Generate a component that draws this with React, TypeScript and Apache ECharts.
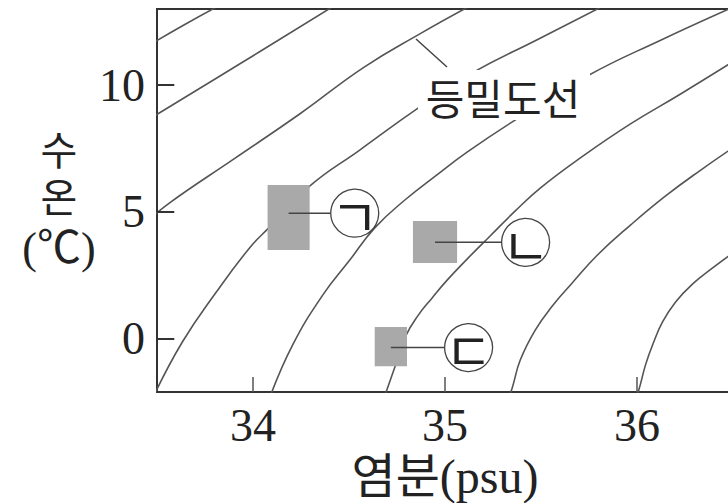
import React, { useEffect, useRef } from "react";
import * as echarts from "echarts";

// Axis ticks
const salinityTicks = [34, 35, 36];
const tempTicks = [0, 5, 10];

// Isopycnal curves: [salinity (psu), temperature (°C)]
const isopycnal1 = [[33.46, 11.58], [33.64, 12.37], [33.83, 13.16]];
const isopycnal2 = [[33.46, 8.66], [33.93, 10.83], [34.43, 13.16]];
const isopycnal3 = [[33.46, 4.69], [33.564, 5.35], [33.903, 7.1], [34.243, 8.86], [34.577, 10.7], [34.869, 12.02], [35.13, 13.12]];
const isopycnal4 = [[33.48, -2.3], [33.632, -0.13], [33.809, 1.84], [33.982, 3.58], [34.086, 4.4], [34.295, 6.02], [34.556, 7.44], [34.869, 9.14], [35.151, 10.52], [35.475, 11.77], [35.835, 13.16]];
const isopycnal5 = [[34.086, -2.34], [34.206, -0.25], [34.363, 1.72], [34.504, 3.1], [34.634, 4.37], [34.791, 5.47], [34.963, 6.49], [35.115, 7.36], [35.365, 8.62], [35.741, 10.36], [36.123, 11.77], [36.514, 13.12]];
const isopycnal6 = [[34.681, -2.34], [34.697, -2.02], [34.739, -1.11], [34.795, 0.1], [34.862, 0.94], [34.932, 1.6], [35.01, 2.3], [35.115, 3.14], [35.235, 4.05], [35.366, 5.04], [35.496, 5.94], [35.705, 7.13], [35.966, 8.47], [36.227, 9.65], [36.514, 10.99]];
const isopycnal7 = [[35.329, -2.34], [35.35, -1.94], [35.392, -0.84], [35.47, 0.34], [35.559, 1.29], [35.658, 2.16], [35.794, 3.3], [35.966, 4.48], [36.149, 5.63], [36.332, 6.65], [36.514, 7.6]];
const isopycnal8 = [[35.997, -2.34], [36.018, -1.79], [36.044, -1.04], [36.081, -0.25], [36.133, 0.66], [36.201, 1.45], [36.29, 2.16], [36.394, 2.79], [36.514, 3.46]];

// Water masses ㄱ, ㄴ, ㄷ
const markLabels = ["ㄱ", "ㄴ", "ㄷ"];
const salRange = [[34.076, 34.295], [34.833, 35.063], [34.634, 34.802]];
const tempRange = [[3.5, 6.06], [2.99, 4.64], [-1.08, 0.46]];
const markTemp = [4.95, 3.8, -0.35];
const circleSal = [34.53, 35.42, 35.123];

const curves = [isopycnal1, isopycnal2, isopycnal3, isopycnal4, isopycnal5, isopycnal6, isopycnal7, isopycnal8];

const SERIF = "'Liberation Serif', 'Noto Sans CJK KR', serif";
const SANS_KR = "'Noto Sans CJK KR', sans-serif";
const X_MIN = 33.5;
const Y_TICK_LEN = 0.09; // inward tick length on the temperature axis, in psu

export default function App() {
  const ref = useRef<HTMLDivElement>(null);
  useEffect(() => {
    if (!ref.current) return;
    const chart = echarts.init(ref.current, undefined, { renderer: "svg" });
    const R = 24;
    const option: any = {
      animation: false,
      backgroundColor: "#fff",
      grid: {
        left: 157,
        top: 9,
        right: -5,
        bottom: 111,
        show: true,
        borderColor: "#333",
        borderWidth: 2,
        backgroundColor: "transparent",
        containLabel: false,
        outerBoundsMode: "none",
      },
      xAxis: {
        type: "value",
        min: X_MIN,
        max: 36.5,
        splitLine: { show: false },
        axisLine: { show: false, onZero: false },
        axisTick: {
          show: true,
          inside: true,
          length: 15,
          customValues: salinityTicks,
          lineStyle: { color: "#555", width: 1.5 },
        },
        axisLabel: {
          customValues: salinityTicks,
          fontSize: 46,
          fontFamily: SERIF,
          color: "#222",
          margin: 10,
        },
        name: "염분(psu)",
        nameLocation: "middle",
        nameGap: 57,
        nameTextStyle: { fontSize: 48, fontFamily: SERIF, color: "#222" },
      },
      yAxis: {
        type: "value",
        min: -2.1,
        max: 13,
        splitLine: { show: false },
        axisLine: { show: false, onZero: false },
        axisTick: { show: false },
        axisLabel: {
          customValues: tempTicks,
          fontSize: 46,
          fontFamily: SERIF,
          color: "#222",
          margin: 12,
        },
      },
      series: [
        ...curves.map((c) => ({
          type: "line",
          data: c,
          showSymbol: false,
          smooth: 0.45,
          silent: true,
          clip: true,
          z: 2,
          lineStyle: { color: "#555", width: 1.6 },
        })),
        {
          // carrier for the inward ticks of the temperature axis
          type: "line",
          data: tempTicks.map((t) => [35.5, t]),
          lineStyle: { opacity: 0 },
          showSymbol: false,
          silent: true,
          z: 20,
          markLine: {
            silent: true,
            symbol: "none",
            z: 20,
            label: { show: false },
            lineStyle: { color: "#333", width: 2, type: "solid", opacity: 1 },
            data: tempTicks.map((t) => [
              { coord: [X_MIN, t] },
              { coord: [X_MIN + Y_TICK_LEN, t] },
            ]),
          },
        },
        {
          type: "custom",
          silent: true,
          z: 5,
          clip: false,
          data: markLabels.map((_, i) => [
            salRange[i][0],
            salRange[i][1],
            tempRange[i][0],
            tempRange[i][1],
            markTemp[i],
            circleSal[i],
          ]),
          renderItem: (params: any, api: any) => {
            const i = params.dataIndex;
            const p0 = api.coord([api.value(0), api.value(3)]);
            const p1 = api.coord([api.value(1), api.value(2)]);
            const c = api.coord([api.value(5), api.value(4)]);
            const bx = (p0[0] + p1[0]) / 2;
            return {
              type: "group",
              children: [
                {
                  type: "rect",
                  shape: { x: p0[0], y: p0[1], width: p1[0] - p0[0], height: p1[1] - p0[1] },
                  style: { fill: "#a9a9a9" },
                },
                {
                  type: "line",
                  shape: { x1: bx, y1: c[1], x2: c[0] - R, y2: c[1] },
                  style: { stroke: "#444", lineWidth: 1.5 },
                },
                {
                  type: "circle",
                  shape: { cx: c[0], cy: c[1], r: R },
                  style: { fill: "#fff", stroke: "#444", lineWidth: 1.3 },
                },
                {
                  type: "text",
                  x: c[0],
                  y: c[1] + 1,
                  style: {
                    text: markLabels[i],
                    fontSize: 52,
                    fontWeight: "normal",
                    fontFamily: SANS_KR,
                    fill: "#222",
                    align: "center",
                    verticalAlign: "middle",
                    textAlign: "center",
                    textVerticalAlign: "middle",
                  },
                },
              ],
            };
          },
        },
      ],
      graphic: [
        {
          type: "rect",
          z: 50,
          shape: { x: 418, y: 70, width: 172, height: 50 },
          style: { fill: "#fff" },
        },
        {
          type: "text",
          z: 51,
          x: 503,
          y: 96,
          style: {
            text: "등밀도선",
            fontSize: 42,
            fontFamily: SANS_KR,
            fill: "#222",
            align: "center",
            verticalAlign: "middle",
            textAlign: "center",
            textVerticalAlign: "middle",
          },
        },
        {
          type: "line",
          z: 51,
          shape: { x1: 416, y1: 39, x2: 447, y2: 67 },
          style: { stroke: "#444", lineWidth: 1.5 },
        },
        ...[
          ["수", 151, 40],
          ["온", 198, 40],
          ["(℃)", 248, 44],
        ].map(([t, y, fs]) => ({
          type: "text",
          z: 51,
          x: 59,
          y: y as number,
          style: {
            text: t as string,
            fontSize: fs as number,
            fontFamily: SERIF,
            fill: "#222",
            align: "center",
            verticalAlign: "middle",
            textAlign: "center",
            textVerticalAlign: "middle",
          },
        })),
      ],
    };
    chart.setOption(option);
    return () => chart.dispose();
  }, []);
  return (
    <div
      ref={ref}
      style={{ position: "fixed", left: 0, top: 0, width: 728, height: 503 }}
    />
  );
}
